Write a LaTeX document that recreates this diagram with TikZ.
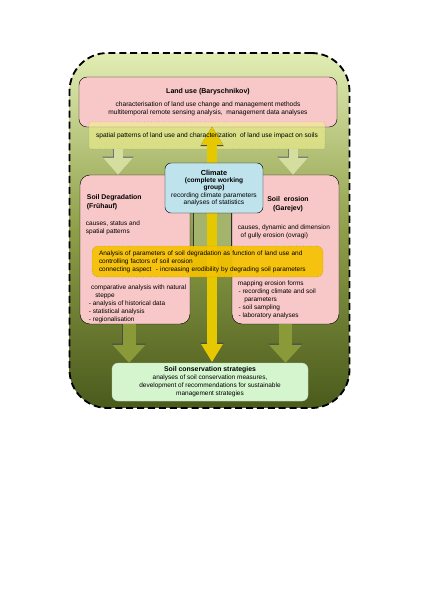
\documentclass[tikz,border=0pt]{standalone}
\usepackage{fontspec}
\setmainfont{Liberation Sans}
\usetikzlibrary{arrows.meta,positioning,calc}
\definecolor{frtop}{HTML}{E2EDB4}
\definecolor{frmid}{HTML}{8E9E48}
\definecolor{frbot}{HTML}{4A5A1C}
\definecolor{pk}{HTML}{F8C8C8}
\definecolor{clim}{HTML}{BEE3EC}
\definecolor{gold}{HTML}{F5C200}
\definecolor{spy}{HTML}{F0F08C}
\definecolor{cons}{HTML}{D5F5CF}
\definecolor{colg}{HTML}{A4B46C}
\definecolor{arl}{HTML}{D4DE9E}
\definecolor{ard}{HTML}{8A9A38}
\definecolor{ary}{HTML}{E6C800}

\begin{document}
\begin{tikzpicture}[x=0.05cm,y=-0.05cm,
  frame/.style={rectangle,draw=black,line width=2.6pt,dash pattern=on 10pt off 5.5pt,rounded corners=1.9cm,top color=frtop,bottom color=frbot,middle color=frmid,minimum width=14cm,minimum height=17.75cm},
  pinkbox/.style={rectangle,draw=black,fill=pk,rounded corners=0.5cm,line width=0.6pt,minimum height=7.45cm},
  topbox/.style={rectangle,draw=black,fill=pk,rounded corners=0.4cm,line width=0.6pt,minimum width=12.9cm,minimum height=2.5cm,align=center,font=\fontsize{9.4}{11.3}\selectfont},
  spatbox/.style={rectangle,draw=black!70,dotted,fill=spy,fill opacity=0.6,text opacity=1,rounded corners=2pt,minimum width=11.8cm,minimum height=1.35cm,font=\fontsize{9.4}{11.3}\selectfont},
  climbox/.style={rectangle,draw=black,fill=clim,rounded corners=0.3cm,line width=0.6pt,minimum width=4.9cm,minimum height=2.5cm,align=center,inner sep=1pt,font=\fontsize{9.4}{10.6}\selectfont},
  colbox/.style={rectangle,draw=black!80,fill=colg,minimum width=1.9cm,minimum height=2.25cm,line width=0.5pt},
  anabox/.style={rectangle,draw=black!80,dotted,fill=gold,fill opacity=0.92,text opacity=1,rounded corners=0.3cm,minimum width=11.55cm,minimum height=1.55cm,inner xsep=0.35cm,text width=10.85cm,align=left,font=\fontsize{9.2}{11.3}\selectfont},
  consbox/.style={rectangle,draw=cons!60!black!40,fill=cons,rounded corners=0.3cm,minimum width=9.8cm,minimum height=1.9cm,align=center,font=\fontsize{9.2}{11.3}\selectfont},
  txt/.style={inner sep=0pt,align=left,font=\fontsize{9.2}{11.3}\selectfont},
  ttl/.style={inner sep=0pt,font=\fontsize{9.8}{11.5}\selectfont\bfseries},
  lightarr/.style={-{Triangle[width=1.5cm,length=0.85cm,line width=0pt]},line width=0.45cm,color=arl,
    preaction={draw=black!55,line width=0.45cm+1.2pt,-{Triangle[width=1.5cm+2pt,length=0.85cm+1.6pt,line width=0pt]}}},
  darkarr/.style={-{Triangle[width=1.65cm,length=0.9cm,line width=0pt]},line width=0.65cm,color=ard,
    preaction={draw=black!70,line width=0.65cm+1.2pt,-{Triangle[width=1.65cm+2pt,length=0.9cm+1.6pt,line width=0pt]}}},
  yelarr/.style={{Triangle[width=1.1cm,length=0.9cm,line width=0pt]}-{Triangle[width=1.1cm,length=0.9cm,line width=0pt]},line width=0.5cm,color=ary,
    preaction={draw=black!70,line width=0.5cm+1.2pt,{Triangle[width=1.1cm+2pt,length=0.9cm+1.8pt,line width=0pt]}-{Triangle[width=1.1cm+2pt,length=0.9cm+1.8pt,line width=0pt]}}}]
\useasboundingbox (0,0) rectangle (420,594);
\node[frame](frame) at (209.5,230.5){};
\node[topbox](landuse) at (208,102){\textbf{\fontsize{10}{12}\selectfont Land use (Baryschnikov)}\\[8pt]characterisation of land use change and management methods\\multitemporal remote sensing analysis,\ \ management data analyses};
\node[colbox](column) at (212,227.5){};
\node[pinkbox,minimum width=5.5cm](degr) at (135,249.5){};
\node[pinkbox,minimum width=5.35cm](eros) at (285.5,249.5){};
\node[spatbox](spatial) at (207,135.5){};
\foreach \s in {-4.45cm,4.3cm}
  \draw[lightarr]([xshift=\s]spatial.south)--([xshift=\s]spatial.south |- degr.north);
\draw[yelarr]([yshift=-0.25cm]spatial.north -| column)--(column |- 0,362);
\node[spatbox,draw=none,fill=none](spattext) at (spatial){spatial patterns of land use and characterization\ \ of land use impact on soils};
\node[climbox](climate) at (214,188){{\fontsize{10.4}{11}\selectfont\textbf{Climate}}\\\textbf{(complete working}\\\textbf{group)}\\recording climate parameters\\analyses of statistics};
\node[anabox](analysis) at (207.5,261.5){Analysis of parameters of soil degradation as function of land use and\\controlling factors of soil erosion\\connecting aspect\ \ - increasing erodibility by degrading soil parameters};
\node[consbox](conserv) at (210,382){\textbf{\fontsize{9.8}{11.5}\selectfont Soil conservation strategies}\\analyses of soil conservation measures,\\development of recommendations for sustainable\\management strategies};
\draw[darkarr]([xshift=-0.3cm]degr.south)--([xshift=-0.3cm]degr.south |- conserv.north);
\draw[darkarr](eros.south)--(eros.south |- conserv.north);
\node[ttl,anchor=north west,align=left](degrtitle) at ($(degr.north west)+(7,20)$){Soil Degradation\\(Frühauf)};
\node[txt,anchor=north west](degrtext) at ($(degr.north west)+(6,46)$){causes, status and\\spatial patterns};
\node[txt,anchor=north west](degrlist) at ($(degr.north west)+(9,110)$){\hspace{3pt}comparative analysis with natural\\\hspace{9pt}steppe\\- analysis of historical data\\- statistical analysis\\- regionalisation};
\node[ttl,anchor=north,align=center](erostitle) at ($(eros.north)+(2.5,22)$){Soil\ \ erosion\\(Garejev)};
\node[txt,anchor=north west](erostext) at ($(eros.north west)+(6,50)$){causes, dynamic and dimension\\\hspace{4pt}of gully erosion (ovragi)};
\node[txt,anchor=north west](eroslist) at ($(eros.north west)+(6,106)$){mapping erosion forms\\\hspace{1pt}- recording climate and soil\\\hspace{9pt}parameters\\\hspace{1pt}- soil sampling\\\hspace{1pt}- laboratory analyses};
\end{tikzpicture}
\end{document}
